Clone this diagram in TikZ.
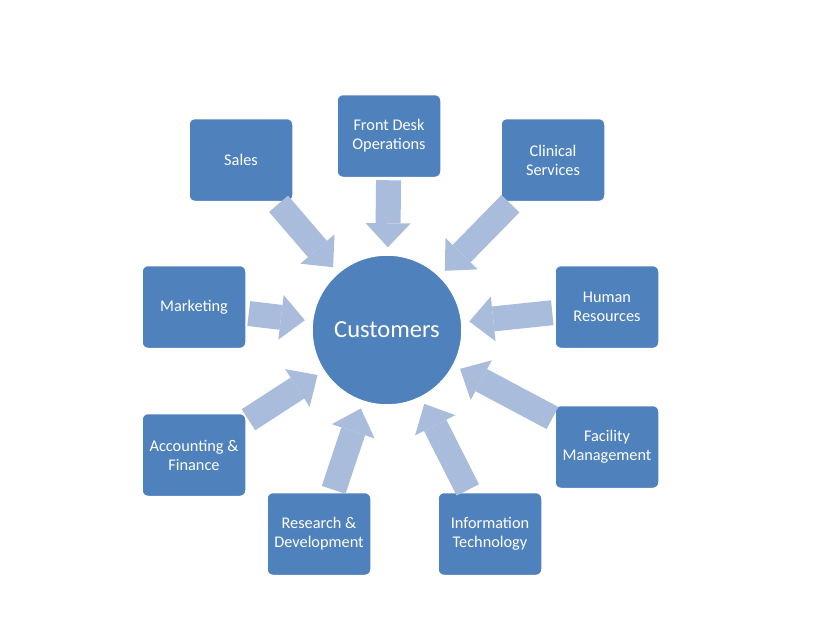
\documentclass[tikz,border=0pt]{standalone}
\usepackage{fontspec}
\setmainfont{Carlito}
\usepackage{tikz}
\usetikzlibrary{arrows.meta}
\definecolor{boxblue}{HTML}{4F81BD}
\definecolor{arrowblue}{HTML}{A9BCDB}

\begin{document}
\begin{tikzpicture}[
    x=1pt, y=-1pt,
    dept/.style={rectangle, rounded corners=6pt, draw=white, line width=1.5pt, fill=boxblue, text=white, minimum width=104pt, minimum height=83pt, align=center, font=\fontsize{16.3}{19}\selectfont},
    hub/.style={circle, draw=white, line width=1.5pt, fill=boxblue, text=white, minimum size=150pt, inner sep=0pt, font=\fontsize{24.5}{28}\selectfont},
    feed/.style={arrowblue, line width=25pt, -{Triangle[width=45pt, length=24pt, line width=0pt]}, shorten >=7pt, shorten <=2pt},
]
\fill[white] (0,0) rectangle (820,640);
% CENTRO
\node[hub] (cust) at (387,330) {Customers};
% DEPARTAMENTOS
\node[dept] (sales) at (241,160) {Sales};
\node[dept] (front) at (389,136) {Front Desk\\Operations};
\node[dept] (clin) at (553,160) {Clinical\\Services};
\node[dept] (mark) at (194,307) {Marketing};
\node[dept] (hr) at (607,307) {Human\\Resources};
\node[dept] (acc) at (194,455) {Accounting \&\\Finance};
\node[dept] (fac) at (607,447) {Facility\\Management};
\node[dept] (rd) at (319,534) {Research \&\\Development};
\node[dept] (it) at (490,534) {Information\\Technology};
% FLECHAS
\draw[feed] (sales) -- (cust);
\draw[feed] (front) -- (cust);
\draw[feed] (clin) -- (cust);
\draw[feed] (mark) -- (cust);
\draw[feed] (hr) -- (cust);
\draw[feed] (acc) -- (cust);
\draw[feed] (fac) -- (cust);
\draw[feed] (rd) -- (cust);
\draw[feed] (it) -- (cust);
\end{tikzpicture}
\end{document}
